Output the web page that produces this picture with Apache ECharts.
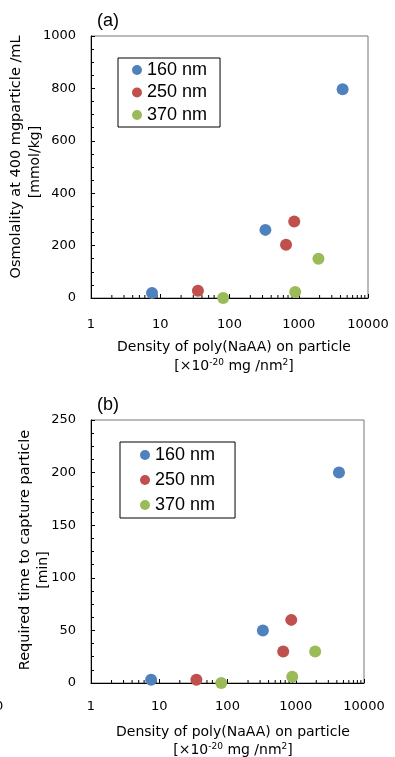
<!DOCTYPE html>
<html>
<head>
<meta charset="utf-8">
<script src="https://cdn.jsdelivr.net/npm/echarts@6/dist/echarts.min.js"></script>
<style>
  html, body { margin: 0; padding: 0; background: #fff; }
  #chart { width: 395px; height: 757px; }
</style>
</head>
<body>
<div id="chart"></div>
<script>
// series names (particle size)
const sizeNames = ['160 nm', '250 nm', '370 nm']
const sizeColors = ['#4F81BD', '#C0504D', '#9BBB59']

// density of poly(NaAA) on particle [x10^-20 mg/nm2]
const density160 = [7.6, 330, 4300]
const density250 = [35, 655, 860]
const density370 = [81, 888, 1925]

// (a) osmolality [mmol/kg]
const osm160 = [19, 260, 797]
const osm250 = [28, 203, 292]
const osm370 = [0, 23, 150]

// (b) required time to capture particle [min]
const time160 = [3, 50, 200]
const time250 = [3, 30, 60]
const time370 = [0, 6, 30]

// minor ticks of the log axis
const logMinorTicks = [2, 3, 4, 5, 6, 7, 8, 9, 20, 30, 40, 50, 60, 70, 80, 90,
  200, 300, 400, 500, 600, 700, 800, 900, 2000, 3000, 4000, 5000, 6000, 7000, 8000, 9000]

const numFont = 'DejaVu Sans'
const legendFont = 'Liberation Sans'

const zip = (xs, ys) => xs.map((x, i) => [x, ys[i]])

const xAxisBase = (gridIndex, labelMargin) => ({
  gridIndex: gridIndex,
  type: 'log',
  logBase: 10,
  min: 1,
  max: 10000,
  axisLine: { lineStyle: { color: '#000', width: 1 } },
  axisTick: { inside: true, length: 4, lineStyle: { color: '#000' } },
  axisLabel: {
    margin: labelMargin,
    color: '#000',
    fontSize: 13,
    fontFamily: numFont,
    formatter: v => String(Math.round(v))
  },
  splitLine: { show: false }
})

const yAxisBase = (gridIndex, max, interval) => ({
  gridIndex: gridIndex,
  type: 'value',
  min: 0,
  max: max,
  interval: interval,
  axisLine: { show: true, lineStyle: { color: '#000', width: 1 } },
  axisTick: { show: true, inside: true, length: 4, lineStyle: { color: '#000' } },
  minorTick: { show: true, splitNumber: 4, length: 3, lineStyle: { color: '#000' } },
  axisLabel: {
    margin: 15,
    color: '#000',
    fontSize: 13,
    fontFamily: numFont,
    formatter: v => String(v)
  },
  splitLine: { show: false }
})

const legendBase = (top, left, padding, itemGap) => ({
  orient: 'vertical',
  left: left,
  top: top,
  padding: padding,
  itemGap: itemGap,
  itemWidth: 10,
  itemHeight: 10,
  icon: 'circle',
  borderColor: '#000',
  borderWidth: 1,
  borderRadius: 0,
  data: sizeNames,
  textStyle: { fontSize: 18, fontFamily: legendFont, color: '#000' }
})

const scatter = (name, color, data, idx) => ({
  name: name,
  type: 'scatter',
  xAxisIndex: idx,
  yAxisIndex: idx,
  symbolSize: 12,
  itemStyle: { color: color, opacity: 1 },
  data: data
})

const minorTickSeries = idx => ({
  type: 'custom',
  xAxisIndex: idx,
  yAxisIndex: idx,
  silent: true,
  clip: false,
  data: logMinorTicks.map(v => [v, 0]),
  renderItem: (params, api) => {
    const p = api.coord([api.value(0), 0])
    return {
      type: 'line',
      shape: { x1: p[0], y1: p[1], x2: p[0], y2: p[1] - 3 },
      style: { stroke: '#000', lineWidth: 1 }
    }
  }
})

const plainText = (x, y, text, size, font, rot) => ({
  type: 'text',
  x: x,
  y: y,
  rotation: rot || 0,
  style: {
    text: text,
    fill: '#000',
    fontSize: size,
    fontFamily: font,
    align: 'center',
    verticalAlign: 'middle'
  }
})

const unitText = (x, y) => ({
  type: 'text',
  x: x,
  y: y,
  style: {
    text: '[×10{sup|-20} mg /nm{sup|2}]',
    fill: '#000',
    fontSize: 14,
    fontFamily: numFont,
    align: 'center',
    verticalAlign: 'middle',
    rich: {
      sup: { fontSize: 9, fontFamily: numFont, fill: '#000', verticalAlign: 'top', padding: [0, 0, 6, 0] }
    }
  }
})

const chart = echarts.init(document.getElementById('chart'))

const option = {
  animation: false,
  backgroundColor: '#fff',
  grid: [
    { left: 91, top: 36, width: 277, height: 262, show: true, borderColor: '#777', borderWidth: 1 },
    { left: 91, top: 420, width: 273, height: 263, show: true, borderColor: '#777', borderWidth: 1 }
  ],
  legend: [
    legendBase(58, 118, [3, 13, 3, 14], 4.5),
    legendBase(442, 120, [4, 20, 4, 20], 7)
  ],
  xAxis: [xAxisBase(0, 20), xAxisBase(1, 17)],
  yAxis: [yAxisBase(0, 1000, 200), yAxisBase(1, 250, 50)],
  series: [
    minorTickSeries(0),
    minorTickSeries(1),
    scatter(sizeNames[0], sizeColors[0], zip(density160, osm160), 0),
    scatter(sizeNames[1], sizeColors[1], zip(density250, osm250), 0),
    scatter(sizeNames[2], sizeColors[2], zip(density370, osm370), 0),
    scatter(sizeNames[0], sizeColors[0], zip(density160, time160), 1),
    scatter(sizeNames[1], sizeColors[1], zip(density250, time250), 1),
    scatter(sizeNames[2], sizeColors[2], zip(density370, time370), 1)
  ],
  graphic: [
    { type: 'text', x: 97, y: 21, style: { text: '(a)', fill: '#000', fontSize: 18, fontFamily: legendFont, verticalAlign: 'middle' } },
    { type: 'text', x: 97, y: 405, style: { text: '(b)', fill: '#000', fontSize: 18, fontFamily: legendFont, verticalAlign: 'middle' } },
    plainText(16, 157, 'Osmolality at 400 mgparticle /mL', 14.5, numFont, Math.PI / 2),
    plainText(35, 162, '[mmol/kg]', 14, numFont, Math.PI / 2),
    plainText(25, 550, 'Required time to capture particle', 14.5, numFont, Math.PI / 2),
    plainText(43, 570, '[min]', 14, numFont, Math.PI / 2),
    plainText(234, 347, 'Density of poly(NaAA) on particle', 14, numFont),
    unitText(234, 366),
    plainText(233, 732, 'Density of poly(NaAA) on particle', 14, numFont),
    unitText(233, 750),
    { type: 'text', x: -5, y: 707, style: { text: '0', fill: '#000', fontSize: 13, fontFamily: numFont, verticalAlign: 'middle' } }
  ]
}

chart.setOption(option)
</script>
</body>
</html>
